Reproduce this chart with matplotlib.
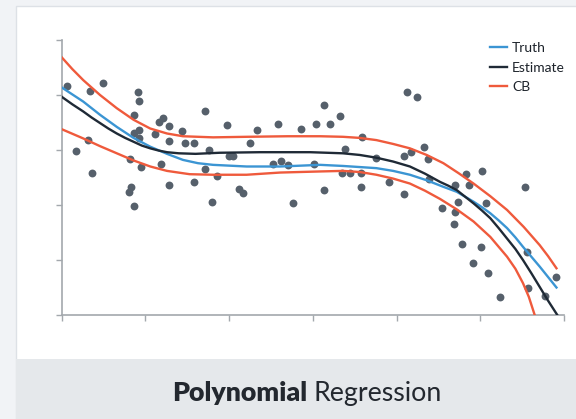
import matplotlib.pyplot as plt
from matplotlib.lines import Line2D
from matplotlib.patches import Rectangle

# scatter points
pts_x = [0.06, 0.34, 0.49, 0.91, 0.93, 0.86, 0.87, 0.93, 0.93, 1.12, 1.17, 1.21, 1.28, 1.28, 1.44,
         1.47, 0.32, 0.17, 0.82, 0.95, 1.19, 0.37, 1.28, 0.83, 0.80, 0.87, 1.71, 1.58, 1.98, 2.33,
         2.58, 2.86, 3.04, 2.25, 1.76, 2.00, 2.05, 2.52, 2.62, 2.70, 3.01, 1.71, 1.86, 1.58, 2.12,
         2.17, 1.80, 2.77, 3.14, 3.33, 3.20, 4.13, 4.24, 3.59, 3.39, 3.76, 4.09, 4.17, 4.33, 4.38,
         3.35, 3.45, 3.58, 3.91, 3.14, 3.58, 4.09, 4.39, 4.54, 4.83, 5.02, 4.70, 4.86, 5.54, 4.74,
         5.07, 4.70, 4.69, 4.78, 5.01, 4.91, 5.09, 5.56, 5.91, 5.57, 5.23, 5.77]
pts_y = [4.16, 4.08, 4.21, 4.05, 3.90, 3.63, 3.31, 3.36, 3.22, 3.30, 3.51, 3.59, 3.43, 3.16, 3.35,
         3.12, 3.19, 2.99, 2.83, 2.70, 2.75, 2.58, 2.36, 2.33, 2.23, 1.98, 3.71, 3.12, 3.45, 3.36,
         3.47, 3.38, 3.47, 3.12, 3.00, 2.90, 2.90, 2.75, 2.80, 2.73, 2.75, 2.65, 2.53, 2.41, 2.30,
         2.21, 2.05, 2.03, 3.82, 3.62, 3.47, 4.05, 3.97, 3.24, 3.02, 2.86, 2.90, 2.97, 3.06, 2.83,
         2.59, 2.59, 2.59, 2.42, 2.27, 2.33, 2.20, 2.47, 1.94, 2.56, 2.61, 2.36, 2.36, 2.33, 2.05,
         2.04, 1.87, 1.65, 1.29, 1.24, 0.95, 0.76, 1.15, 0.70, 0.50, 0.33, 0.35]

# curves
truth_x = [0, 0.13, 0.26, 0.46, 0.66, 0.86, 1.06, 1.26, 1.45, 1.63, 1.81, 2.21, 2.61, 3.09,
           3.36, 3.76, 3.96, 4.16, 4.36, 4.56, 4.72, 4.82, 4.92, 5.02, 5.12, 5.22, 5.32, 5.42,
           5.51, 5.61, 5.71, 5.81, 5.91]
truth_y = [4.14, 4.01, 3.88, 3.64, 3.42, 3.22, 3.06, 2.93, 2.82, 2.76, 2.73, 2.70, 2.70, 2.73,
           2.71, 2.67, 2.62, 2.55, 2.45, 2.33, 2.24, 2.15, 2.06, 1.96, 1.85, 1.72, 1.58, 1.41,
           1.24, 1.06, 0.88, 0.69, 0.50]

est_x = [0, 0.13, 0.26, 0.36, 0.46, 0.56, 0.66, 0.76, 0.86, 0.96, 1.06, 1.16, 1.26, 1.40,
         1.60, 1.89, 2.37, 2.97, 3.36, 3.56, 3.76, 3.96, 4.16, 4.34, 4.52, 4.62, 4.72, 4.82,
         4.92, 5.02, 5.12, 5.22, 5.32, 5.42, 5.51, 5.61, 5.71, 5.81, 5.92]
est_y = [3.97, 3.83, 3.70, 3.59, 3.49, 3.39, 3.30, 3.22, 3.15, 3.08, 3.03, 2.99, 2.96, 2.94,
         2.93, 2.95, 2.96, 2.96, 2.94, 2.91, 2.86, 2.79, 2.70, 2.57, 2.42, 2.35, 2.27, 2.15,
         2.03, 1.90, 1.76, 1.58, 1.39, 1.20, 1.00, 0.76, 0.51, 0.26, 0.0]

cb_hi_x = [0, 0.13, 0.26, 0.46, 0.66, 0.86, 1.06, 1.26, 1.45, 1.81, 2.21, 2.70, 3.09, 3.36,
           3.56, 3.76, 3.96, 4.16, 4.36, 4.56, 4.74, 4.92, 5.12, 5.32, 5.52, 5.71, 5.81, 5.91]
cb_hi_y = [4.69, 4.47, 4.27, 4.00, 3.76, 3.55, 3.39, 3.30, 3.25, 3.23, 3.24, 3.25, 3.25, 3.24,
           3.22, 3.18, 3.11, 3.03, 2.91, 2.76, 2.58, 2.39, 2.16, 1.91, 1.60, 1.27, 1.07, 0.85]

cb_lo_x = [0, 0.26, 0.46, 0.66, 0.86, 1.06, 1.26, 1.53, 1.81, 2.21, 2.61, 3.09, 3.36, 3.56,
           3.76, 3.96, 4.16, 4.34, 4.52, 4.72, 4.92, 5.12, 5.32, 5.42, 5.51, 5.58, 5.65]
cb_lo_y = [3.38, 3.21, 3.07, 2.94, 2.81, 2.70, 2.62, 2.56, 2.55, 2.55, 2.59, 2.61, 2.62, 2.60,
           2.55, 2.48, 2.39, 2.26, 2.11, 1.92, 1.70, 1.42, 1.06, 0.84, 0.58, 0.33, 0.0]

blue = "#3b95d3"
dark = "#1f2a36"
red = "#ef5a3c"
axis_gray = "#a3a8ad"

fig = plt.figure(figsize=(5.76, 4.19), dpi=100)
fig.patch.set_facecolor("#f1f3f6")

# white card and caption band
fig.patches.append(Rectangle((16 / 576, 0), 1, 1 - 6 / 419, transform=fig.transFigure,
                             facecolor="white", edgecolor="#dde1e6", lw=1, zorder=0))
fig.patches.append(Rectangle((16 / 576, 0), 1, 60 / 419, transform=fig.transFigure,
                             facecolor="#e5e8eb", edgecolor="none", zorder=0))

ax = fig.add_axes([61.5 / 576, 1 - 315 / 419, 502.5 / 576, 275 / 419])
ax.set_zorder(2)
ax.set_facecolor("white")

ax.scatter(pts_x, pts_y, s=32, color="#56606b", zorder=2, linewidths=0)
for cx, cy in [(cb_hi_x, cb_hi_y), (cb_lo_x, cb_lo_y)]:
    ax.plot(cx, cy, color=red, lw=1.7, zorder=3, solid_joinstyle="round")
ax.plot(truth_x, truth_y, color=blue, lw=1.7, zorder=4, solid_joinstyle="round")
ax.plot(est_x, est_y, color=dark, lw=1.7, zorder=5, solid_joinstyle="round")

ax.set_xlim(0, 6)
ax.set_ylim(0, 5)
ax.set_xticks(range(7))
ax.set_yticks(range(6))
ax.set_xticklabels([])
ax.set_yticklabels([])
ax.tick_params(length=4, width=1, color=axis_gray, direction="out")
for s in ["top", "right"]:
    ax.spines[s].set_visible(False)
for s in ["left", "bottom"]:
    ax.spines[s].set_color(axis_gray)
    ax.spines[s].set_linewidth(1.2)

handles = [Line2D([], [], color=blue, lw=1.7),
           Line2D([], [], color=dark, lw=1.7),
           Line2D([], [], color=red, lw=1.7)]
leg = fig.legend(handles, ["Truth", "Estimate", "CB"], loc="upper left",
                 bbox_to_anchor=(490 / 576, 1 - 42 / 419), frameon=False,
                 handlelength=1.25, handletextpad=0.35, labelspacing=0.55,
                 prop={"family": "Lato", "size": 10}, borderaxespad=0, borderpad=0)
leg.set_zorder(5)
for t in leg.get_texts():
    t.set_color("#1d232b")

fig.text(307 / 576, 1 - 401 / 419, "Polynomial", ha="right", va="baseline",
         family="Lato", weight="heavy", fontsize=19.3, color="#23282f")
fig.text(313 / 576, 1 - 401 / 419, "Regression", ha="left", va="baseline",
         family="Lato", fontsize=19.3, color="#23282f")

fig.savefig("out.png", dpi=100, facecolor=fig.get_facecolor())
